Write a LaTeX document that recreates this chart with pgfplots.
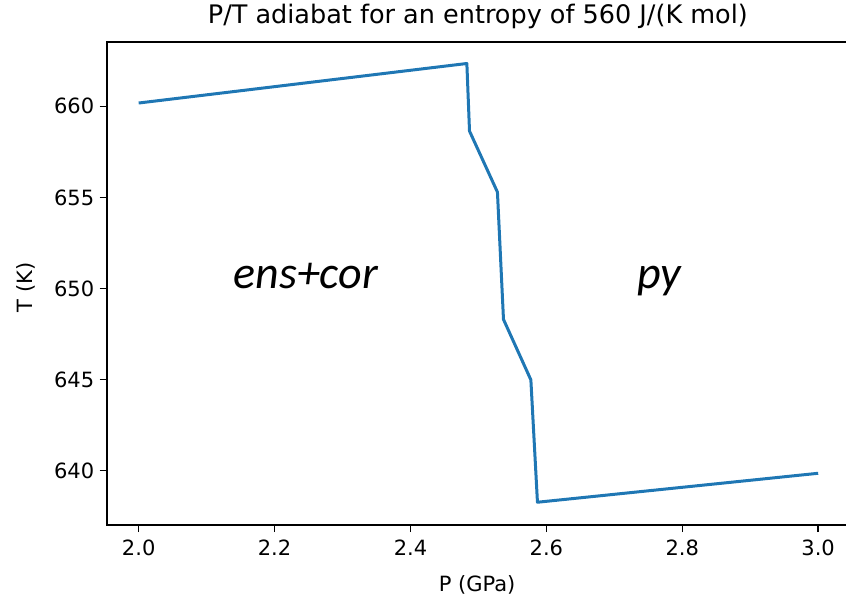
\documentclass[border=0pt]{standalone}
\usepackage{fontspec}
\setmainfont{DejaVu Sans}
\newfontfamily\carlito{Carlito}
\usepackage{pgfplots}
\pgfplotsset{compat=1.18}
\definecolor{mplblue}{HTML}{1F77B4}
\begin{document}
\begin{tikzpicture}
\begin{axis}[
  at={(0,0)}, anchor=south west,
  scale only axis,
  width=739pt, height=483pt,
  xmin=1.953, xmax=3.041,
  ymin=637.0, ymax=663.53,
  xtick={2.0,2.2,2.4,2.6,2.8,3.0},
  xticklabels={2.0,2.2,2.4,2.6,2.8,3.0},
  ytick={640,645,650,655,660},
  yticklabels={640,645,650,655,660},
  tick pos=left,
  tick align=outside,
  major tick length=7pt,
  every tick/.style={black, line width=1.5pt},
  axis line style={draw=none},
  ticklabel style={font=\fontsize{21}{25}\selectfont},
  xticklabel style={yshift=-4pt},
  yticklabel style={xshift=-2pt},
  title={P/T adiabat for an entropy of 560 J/(K mol)},
  title style={font=\fontsize{25.5}{30}\selectfont, at={(0.502,1)}, anchor=base, yshift=12.4pt},
  xlabel={P (GPa)},
  xlabel style={font=\fontsize{21}{25}\selectfont, at={(0.501,0)}, anchor=base, yshift=-66.7pt},
  ylabel={T (K)},
  every axis y label/.style={font=\fontsize{21}{25}\selectfont, at={([xshift=-74pt]axis description cs:0,0.492)}, rotate=90, anchor=base},
  clip=false,
]
\addplot[mplblue, line width=3pt, line join=round] table {
x y
2.0 660.18
2.483 662.35
2.4869 658.64
2.528 655.29
2.5369 648.30
2.5772 644.98
2.5869 638.26
3.0 639.85
};
\draw[black, line width=1.6pt] (rel axis cs:1,1) -- (rel axis cs:0,1) -- (rel axis cs:0,0) -- (rel axis cs:1,0);
\node[font=\carlito\itshape\fontsize{46}{50}\selectfont, anchor=base] at (axis cs:2.246,650.0) {ens+cor};
\node[font=\carlito\itshape\fontsize{46}{50}\selectfont, anchor=base] at (axis cs:2.766,650.0) {py};
\end{axis}
\pgfresetboundingbox
\path[use as bounding box] (-106.7pt,-72pt) rectangle (739pt,525pt);
\end{tikzpicture}
\end{document}
